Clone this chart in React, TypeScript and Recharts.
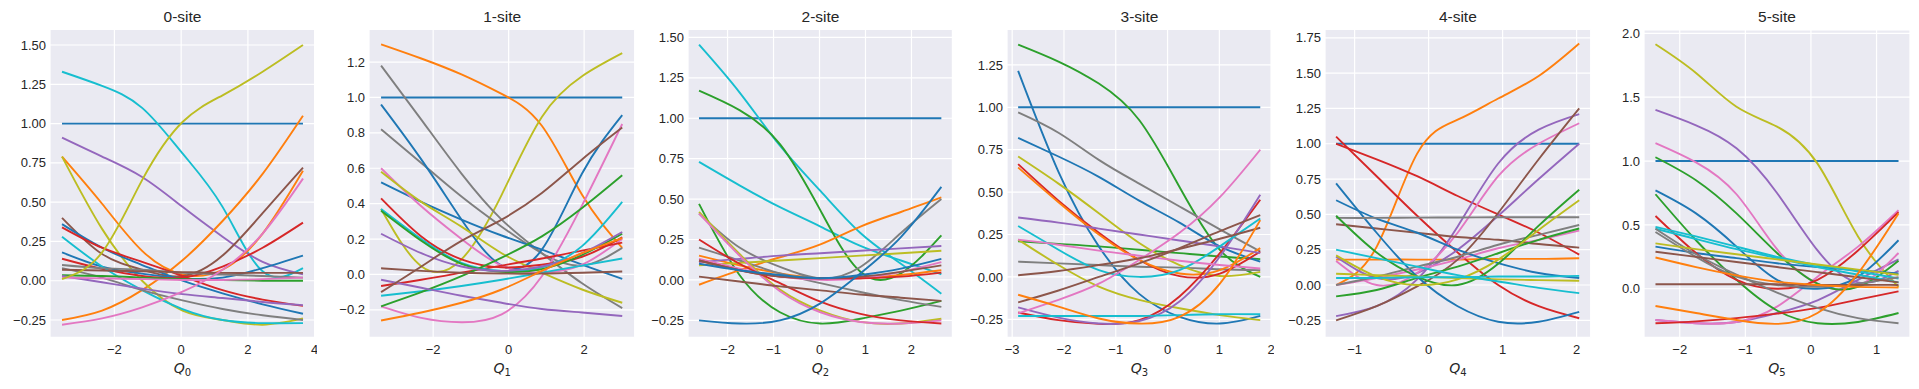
import React from 'react';
import { LineChart, Line, XAxis, YAxis, CartesianGrid } from 'recharts';

const TAB10 = ['#1f77b4', '#ff7f0e', '#2ca02c', '#d62728', '#9467bd', '#8c564b', '#e377c2', '#7f7f7f', '#bcbd22', '#17becf'];

// ---- 0-site ----
const site0X = [-3.57, -2.37, -1.17, 0.04, 1.24, 2.44, 3.65];
const site0Curves = [
  [1, 1, 1, 1, 1, 1, 1],
  [1.33, 1.24, 1.1, 0.81, 0.47, 0.06, 0.08],
  [0.91, 0.79, 0.66, 0.47, 0.28, 0.12, 0.04],
  [0.79, 0.49, 0.19, 0.04, 0.07, 0.3, 0.7],
  [-0.25, -0.19, -0.06, 0.13, 0.38, 0.68, 1.05],
  [0.79, 0.33, 0, -0.19, -0.25, -0.28, -0.24],
  [0.4, 0.17, 0.07, 0.03, 0.16, 0.43, 0.72],
  [0.36, 0.21, 0.1, 0, -0.08, -0.15, -0.21],
  [0.18, 0.09, 0.045, 0.015, 0.02, 0.08, 0.16],
  [0.34, 0.21, 0.12, 0.03, -0.06, -0.12, -0.16],
  [0.14, 0.075, 0.03, 0.02, 0.09, 0.21, 0.37],
  [0.28, 0.09, -0.06, -0.18, -0.25, -0.27, -0.27],
  [0.08, 0.02, -0.06, -0.125, -0.18, -0.22, -0.25],
  [0.1, 0.08, 0.07, 0.05, 0.04, 0.03, 0.02],
  [0.07, 0.065, 0.06, 0.055, 0.05, 0.05, 0.05],
  [0.035, 0.03, 0.02, 0.01, 0.005, 0, 0],
  [0.03, -0.01, -0.05, -0.085, -0.11, -0.135, -0.155],
  [-0.28, -0.24, -0.17, -0.07, 0.07, 0.3, 0.65],
  [0.02, 0.015, 0.01, 0.005, 0.005, 0.01, 0.02],
  [0.01, 0.18, 0.64, 1.01, 1.18, 1.33, 1.5],
];
const site0Colors = [0, 9, 4, 1, 1, 8, 5, 0, 0, 3, 3, 9, 7, 7, 5, 2, 4, 6, 6, 8];

// ---- 1-site ----
const site1X = [-3.38, -2.315, -1.25, -0.185, 0.88, 1.945, 3.01];
const site1Curves = [
  [1, 1, 1, 1, 1, 1, 1],
  [1.3, 1.22, 1.13, 1.02, 0.84, 0.45, 0.15],
  [0.37, 0.047, 0.085, 0.45, 0.89, 1.12, 1.25],
  [1.18, 0.875, 0.57, 0.31, 0.12, -0.05, -0.19],
  [0.82, 0.63, 0.44, 0.27, 0.12, 0.05, 0.15],
  [0.96, 0.65, 0.31, 0.05, 0.14, 0.57, 0.9],
  [0.52, 0.41, 0.31, 0.22, 0.14, 0.055, -0.025],
  [0.6, 0.385, 0.2, 0.05, 0.01, 0.055, 0.2],
  [-0.18, -0.245, -0.27, -0.225, -0.01, 0.39, 0.85],
  [0.58, 0.41, 0.27, 0.12, 0.01, -0.085, -0.16],
  [0.43, 0.215, 0.085, 0.04, 0.055, 0.1, 0.21],
  [-0.065, -0.03, 0.01, 0.05, 0.09, 0.135, 0.18],
  [0.37, 0.2, 0.065, 0.02, 0.04, 0.16, 0.41],
  [-0.12, -0.095, -0.065, -0.03, 0.01, 0.05, 0.09],
  [0.36, 0.19, 0.06, 0.015, 0.03, 0.11, 0.23],
  [-0.18, -0.1, -0.01, 0.095, 0.215, 0.375, 0.56],
  [0.23, 0.12, 0.045, 0.02, 0.045, 0.12, 0.24],
  [-0.03, -0.075, -0.12, -0.16, -0.195, -0.215, -0.235],
  [-0.1, 0.045, 0.19, 0.31, 0.46, 0.65, 0.83],
  [0.035, 0.02, 0.01, 0.005, 0.005, 0.01, 0.017],
  [-0.26, -0.215, -0.16, -0.085, 0.02, 0.12, 0.205],
];
const site1Colors = [0, 1, 8, 7, 7, 0, 0, 6, 6, 8, 3, 3, 9, 9, 2, 2, 4, 4, 5, 5, 1];

// ---- 2-site ----
const site2X = [-2.62, -1.74, -0.86, 0.02, 0.89, 1.77, 2.65];
const site2Curves = [
  [1, 1, 1, 1, 1, 1, 1],
  [1.455, 1.16, 0.83, 0.55, 0.29, 0.1, -0.085],
  [0.73, 0.585, 0.45, 0.33, 0.21, 0.12, 0.035],
  [1.17, 1.05, 0.84, 0.43, 0.05, 0.04, 0.275],
  [0.47, 0.03, -0.2, -0.27, -0.24, -0.19, -0.13],
  [-0.03, 0.06, 0.14, 0.22, 0.33, 0.42, 0.51],
  [0.15, 0.09, 0.04, 0.01, 0.01, 0.03, 0.06],
  [0.41, 0.2, 0.08, 0.01, 0.08, 0.29, 0.5],
  [0.2, 0.12, 0.04, -0.02, -0.075, -0.125, -0.167],
  [0.11, 0.13, 0.15, 0.165, 0.18, 0.195, 0.21],
  [0.09, 0.105, 0.12, 0.135, 0.15, 0.165, 0.18],
  [0.42, 0.16, -0.06, -0.19, -0.26, -0.27, -0.24],
  [0.41, 0.15, -0.07, -0.2, -0.26, -0.27, -0.25],
  [0.13, 0.07, 0.02, 0, 0.01, 0.05, 0.11],
  [0.25, 0.1, -0.02, -0.135, -0.21, -0.25, -0.27],
  [0.12, 0.06, 0.02, 0.01, 0.01, 0.02, 0.045],
  [0.02, -0.01, -0.04, -0.065, -0.09, -0.11, -0.13],
  [0.12, 0.06, 0.02, 0.01, 0.02, 0.05, 0.09],
  [-0.25, -0.27, -0.25, -0.145, 0.04, 0.265, 0.575],
  [0.1, 0.06, 0.03, 0.01, 0.03, 0.07, 0.13],
];
const site2Colors = [0, 9, 9, 2, 2, 1, 1, 7, 7, 4, 8, 8, 6, 6, 3, 3, 5, 5, 0, 0];

// ---- 3-site ----
const site3X = [-2.885, -2.106, -1.327, -0.548, 0.231, 1.01, 1.79];
const site3Curves = [
  [1, 1, 1, 1, 1, 1, 1],
  [1.37, 1.27, 1.14, 0.925, 0.53, 0.16, 0],
  [0.21, 0.195, 0.18, 0.16, 0.14, 0.12, 0.105],
  [1.215, 0.62, 0.18, -0.1, -0.235, -0.275, -0.23],
  [0.82, 0.71, 0.59, 0.45, 0.32, 0.18, 0.09],
  [0.97, 0.85, 0.69, 0.55, 0.415, 0.28, 0.15],
  [0.09, 0.08, 0.07, 0.06, 0.055, 0.045, 0.04],
  [0.71, 0.55, 0.375, 0.2, 0.07, 0.005, 0.03],
  [0.22, 0.07, -0.057, -0.135, -0.185, -0.225, -0.255],
  [0.665, 0.45, 0.26, 0.1, 0.005, 0.02, 0.15],
  [0.645, 0.44, 0.25, 0.1, 0.02, 0.04, 0.17],
  [-0.21, -0.255, -0.277, -0.255, -0.115, 0.14, 0.455],
  [0.35, 0.32, 0.285, 0.25, 0.215, 0.18, 0.14],
  [-0.18, -0.24, -0.275, -0.26, -0.145, 0.12, 0.485],
  [0.3, 0.16, 0.04, 0, 0.04, 0.18, 0.345],
  [-0.23, -0.23, -0.23, -0.23, -0.225, -0.22, -0.22],
  [-0.215, -0.135, -0.04, 0.1, 0.26, 0.47, 0.75],
  [0.22, 0.19, 0.155, 0.125, 0.095, 0.07, 0.05],
  [0.01, 0.035, 0.07, 0.11, 0.165, 0.225, 0.29],
  [-0.15, -0.08, 0, 0.08, 0.17, 0.27, 0.365],
  [-0.105, -0.175, -0.245, -0.275, -0.235, -0.04, 0.335],
];
const site3Colors = [0, 2, 2, 0, 0, 7, 7, 8, 8, 3, 1, 3, 4, 4, 9, 9, 6, 6, 5, 5, 1];

// ---- 4-site ----
const site4X = [-1.25, -0.7025, -0.155, 0.3925, 0.94, 1.4875, 2.035];
const site4Curves = [
  [1, 1, 1, 1, 1, 1, 1],
  [0, 0.27, 0.93, 1.17, 1.32, 1.48, 1.71],
  [0.18, 0.18, 0.18, 0.18, 0.185, 0.185, 0.19],
  [1.05, 0.77, 0.49, 0.23, 0, -0.15, -0.235],
  [1, 0.89, 0.77, 0.63, 0.5, 0.37, 0.215],
  [-0.22, -0.15, 0.04, 0.415, 0.86, 1.1, 1.21],
  [0.2, 0.05, 0.085, 0.25, 0.49, 0.75, 1],
  [0.17, 0, 0.085, 0.37, 0.77, 1, 1.145],
  [0, 0.05, 0.11, 0.18, 0.26, 0.32, 0.385],
  [-0.25, -0.15, -0.01, 0.18, 0.51, 0.89, 1.25],
  [0.43, 0.4, 0.37, 0.34, 0.32, 0.29, 0.265],
  [0.72, 0.37, 0.06, -0.15, -0.26, -0.26, -0.19],
  [0.6, 0.47, 0.37, 0.25, 0.155, 0.085, 0.05],
  [0.475, 0.475, 0.477, 0.478, 0.48, 0.48, 0.48],
  [0, 0.06, 0.13, 0.2, 0.285, 0.355, 0.425],
  [0.49, 0.23, 0.06, 0, 0.15, 0.42, 0.675],
  [-0.08, -0.035, 0.05, 0.13, 0.225, 0.32, 0.4],
  [0.21, 0.06, 0, 0.04, 0.18, 0.39, 0.6],
  [0.08, 0.07, 0.06, 0.05, 0.04, 0.035, 0.03],
  [0.25, 0.19, 0.13, 0.07, 0.025, -0.02, -0.057],
  [0.05, 0.05, 0.055, 0.055, 0.06, 0.06, 0.065],
];
const site4Colors = [0, 1, 1, 3, 3, 4, 4, 6, 6, 5, 5, 0, 0, 7, 7, 2, 2, 8, 8, 9, 9];

// ---- 5-site ----
const site5X = [-2.37, -1.7525, -1.135, -0.5175, 0.1, 0.7175, 1.335];
const site5Curves = [
  [1, 1, 1, 1, 1, 1, 1],
  [1.915, 1.69, 1.425, 1.27, 0.98, 0.41, 0.015],
  [1.4, 1.28, 1.1, 0.75, 0.3, 0.05, 0.14],
  [-0.245, -0.27, -0.26, -0.19, -0.09, 0.07, 0.23],
  [1.14, 0.99, 0.74, 0.31, 0.04, 0.02, 0.28],
  [-0.245, -0.27, -0.26, -0.14, 0.095, 0.33, 0.615],
  [1.03, 0.85, 0.59, 0.28, 0.04, 0.015, 0.22],
  [0.74, 0.38, 0.07, -0.17, -0.27, -0.26, -0.19],
  [0.77, 0.59, 0.33, 0.07, 0, 0.095, 0.38],
  [0.33, 0.28, 0.24, 0.2, 0.17, 0.145, 0.12],
  [0.57, 0.28, 0.07, 0, 0.07, 0.3, 0.6],
  [-0.27, -0.255, -0.23, -0.195, -0.15, -0.085, -0.02],
  [0.485, 0.41, 0.33, 0.25, 0.185, 0.135, 0.08],
  [0.47, 0.39, 0.31, 0.24, 0.17, 0.11, 0.05],
  [0.47, 0.27, 0.11, -0.03, -0.15, -0.23, -0.27],
  [0.445, 0.25, 0.095, 0.03, 0.015, 0.04, 0.09],
  [0.355, 0.31, 0.27, 0.23, 0.19, 0.15, 0.11],
  [0.29, 0.25, 0.21, 0.17, 0.13, 0.09, 0.05],
  [0.035, 0.035, 0.035, 0.035, 0.03, 0.03, 0.03],
  [0.245, 0.17, 0.105, 0.055, 0.03, 0.015, 0.01],
  [-0.135, -0.19, -0.245, -0.275, -0.19, 0.12, 0.59],
];
const site5Colors = [0, 8, 4, 4, 6, 6, 2, 2, 0, 0, 3, 3, 9, 9, 7, 7, 8, 5, 5, 1, 1];

const quarterTicks = [-0.25, 0, 0.25, 0.5, 0.75, 1, 1.25, 1.5, 1.75];

// layout of each subplot (pixel positions of the plot area)
const panels = [
  { title: '0-site', sub: '0', xs: site0X, curves: site0Curves, colors: site0Colors,
    xDomain: [-3.93, 4.01], xTicks: [-2, 0, 2, 4], yDomain: [-0.36, 1.6], yTicks: quarterTicks.slice(0, 8), yDec: 2,
    left: 50, width: 265, top: 29.3 },
  { title: '1-site', sub: '1', xs: site1X, curves: site1Curves, colors: site1Colors,
    xDomain: [-3.7, 3.34], xTicks: [-2, 0, 2], yDomain: [-0.355, 1.385], yTicks: [-0.2, 0, 0.2, 0.4, 0.6, 0.8, 1.0, 1.2], yDec: 1,
    left: 369.3, width: 265.7, top: 29.3 },
  { title: '2-site', sub: '2', xs: site2X, curves: site2Curves, colors: site2Colors,
    xDomain: [-2.86, 2.89], xTicks: [-2, -1, 0, 1, 2], yDomain: [-0.355, 1.55], yTicks: quarterTicks.slice(0, 8), yDec: 2,
    left: 688.3, width: 264.4, top: 29.3 },
  { title: '3-site', sub: '3', xs: site3X, curves: site3Curves, colors: site3Colors,
    xDomain: [-3.1, 2.005], xTicks: [-3, -2, -1, 0, 1, 2], yDomain: [-0.356, 1.46], yTicks: quarterTicks.slice(0, 7), yDec: 2,
    left: 1007.3, width: 264.4, top: 29.3 },
  { title: '4-site', sub: '4', xs: site4X, curves: site4Curves, colors: site4Colors,
    xDomain: [-1.4, 2.19], xTicks: [-1, 0, 1, 2], yDomain: [-0.37, 1.81], yTicks: quarterTicks, yDec: 2,
    left: 1325, width: 265.7, top: 29.3 },
  { title: '5-site', sub: '5', xs: site5X, curves: site5Curves, colors: site5Colors,
    xDomain: [-2.545, 1.51], xTicks: [-2, -1, 0, 1], yDomain: [-0.38, 2.026], yTicks: [0, 0.5, 1.0, 1.5, 2.0], yDec: 1,
    left: 1644, width: 266, top: 30 },
];

const fmt = (dec: number) => (v: number) => (v < 0 ? '\u2212' : '') + Math.abs(v).toFixed(dec);

const TEXT = '#262626';
const FONT = '"Liberation Sans", Arial, sans-serif';
const AXIS_W = 60;
const H = 389;
const PLOT_BOTTOM = 337.3;
const XAXIS_H = 30;

function Panel({ p }: { p: any }) {
  const data = p.xs.map((x: number, i: number) => {
    const row: any = { x };
    p.curves.forEach((c: number[], j: number) => { row['c' + j] = c[i]; });
    return row;
  });

  return (
    <div style={{ position: 'absolute', left: p.left - AXIS_W, top: 0 }}>
      <LineChart
        width={AXIS_W + p.width + 2}
        height={H}
        data={data}
        margin={{ top: p.top, right: 2, left: 0, bottom: H - PLOT_BOTTOM - XAXIS_H }}
      >
        <CartesianGrid fill="#EAEAF2" stroke="#ffffff" strokeWidth={1.2} />
        <XAxis
          type="number" dataKey="x" domain={p.xDomain} ticks={p.xTicks} interval={0} allowDataOverflow
          axisLine={false} tickLine={false} tickSize={0} tickMargin={7} height={XAXIS_H}
          tick={{ fontSize: 13, fill: TEXT, fontFamily: FONT }} tickFormatter={fmt(0)}
        />
        <YAxis
          type="number" domain={p.yDomain} ticks={p.yTicks} interval={0} allowDataOverflow
          axisLine={false} tickLine={false} tickSize={0} tickMargin={4} width={AXIS_W}
          tick={{ fontSize: 13, fill: TEXT, fontFamily: FONT }} tickFormatter={fmt(p.yDec)}
        />
        {p.curves.map((_: number[], j: number) => (
          <Line
            key={j} dataKey={'c' + j} type="natural" stroke={TAB10[p.colors[j]]} strokeWidth={1.9}
            dot={false} activeDot={false} isAnimationActive={false}
          />
        ))}
      </LineChart>
      <div style={{ position: 'absolute', left: AXIS_W, width: p.width, top: 7, height: 20, lineHeight: '20px',
        textAlign: 'center', fontSize: 15.5, color: TEXT }}>
        {p.title}
      </div>
      <div style={{ position: 'absolute', left: AXIS_W, width: p.width, top: 358, height: 20, lineHeight: '20px',
        textAlign: 'center', fontSize: 14, color: TEXT, fontFamily: '"DejaVu Sans", sans-serif' }}>
        <span style={{ fontStyle: 'italic' }}>Q</span>
        <span style={{ fontSize: 10, position: 'relative', top: 3 }}>{p.sub}</span>
      </div>
    </div>
  );
}

export default function App() {
  return (
    <div style={{ position: 'relative', width: 1919, height: H, background: '#ffffff', fontFamily: FONT, overflow: 'hidden' }}>
      <style>{'body{margin:0}'}</style>
      {panels.map((p) => <Panel key={p.title} p={p} />)}
    </div>
  );
}
